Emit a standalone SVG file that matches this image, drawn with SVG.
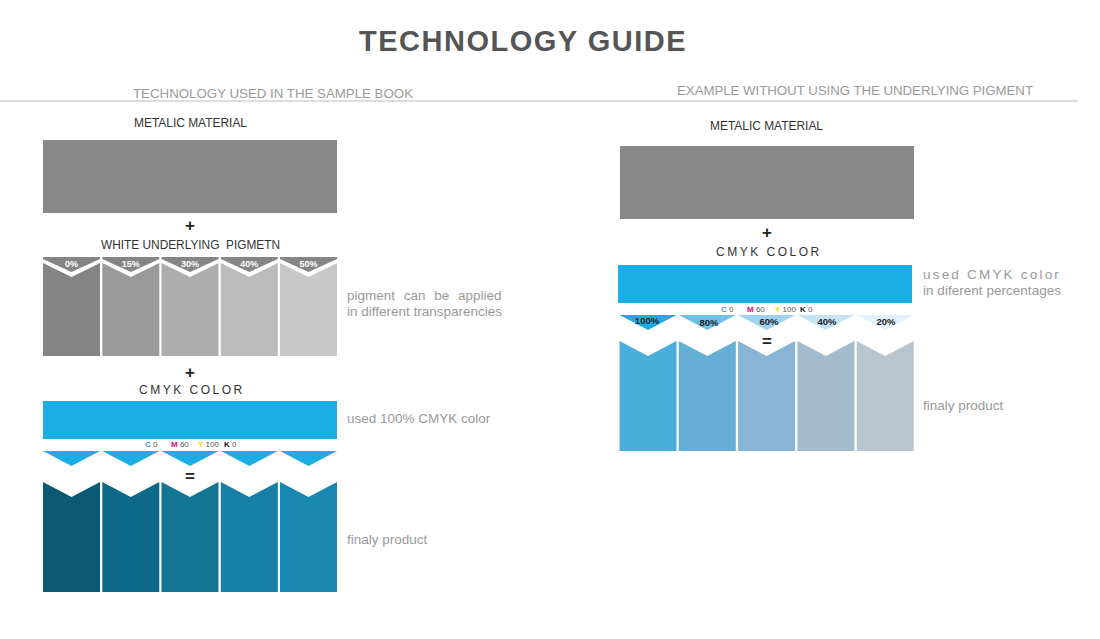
<svg xmlns="http://www.w3.org/2000/svg" width="1100" height="639" viewBox="0 0 1100 639">
<style>
text{font-family:"Liberation Sans",Arial,sans-serif}
.title{font-size:29px;font-weight:bold;fill:#555;letter-spacing:1.5px}
.sec{font-size:13.3px;fill:#9a9a9a}
.lab{font-size:12px;fill:#333}
.note{font-size:13.5px;fill:#999}
.op{font-size:17px;font-weight:bold;fill:#222;text-anchor:middle}
.pct{font-size:9px;font-weight:bold;fill:#fff;text-anchor:middle}
.pct2{font-size:9.5px;font-weight:bold;fill:#222;text-anchor:middle}
.cmyk{font-size:8px;fill:#555}
.spaced{font-size:12px;fill:#333;letter-spacing:2.5px}
</style>
<rect width="1100" height="639" fill="#fff"/>
<text class="title" x="523" y="51" text-anchor="middle">TECHNOLOGY GUIDE</text>
<line x1="0" y1="101" x2="1078" y2="101" stroke="#bbb" stroke-width="1"/>
<text class="sec" x="133" y="98" textLength="280">TECHNOLOGY USED IN THE SAMPLE BOOK</text>
<text class="sec" x="677" y="95" textLength="356">EXAMPLE WITHOUT USING THE UNDERLYING PIGMENT</text>

<g id="left-metal">
<text class="lab" x="134" y="127" textLength="113" lengthAdjust="spacingAndGlyphs">METALIC MATERIAL</text>
<rect x="43" y="140" width="294" height="73" fill="#888"/>
</g>
<text class="op" x="190" y="231">+</text>
<g id="left-pigment">
<text class="lab" x="101" y="249" textLength="179" lengthAdjust="spacingAndGlyphs" xml:space="preserve">WHITE UNDERLYING  PIGMETN</text>
<g fill="#858585">
<polygon points="43,257 100,257 100,259 71.5,272 43,259"/>
<polygon points="102.3,257 159.3,257 159.3,259 130.8,272 102.3,259"/>
<polygon points="161.5,257 218.5,257 218.5,259 190,272 161.5,259"/>
<polygon points="220.8,257 277.8,257 277.8,259 249.3,272 220.8,259"/>
<polygon points="280,257 337,257 337,259 308.5,272 280,259"/>
</g>
<text class="pct" x="71.5" y="267">0%</text>
<text class="pct" x="130.8" y="267">15%</text>
<text class="pct" x="190" y="267">30%</text>
<text class="pct" x="249.3" y="267">40%</text>
<text class="pct" x="308.5" y="267">50%</text>
<polygon points="43,263 71.5,277 100,263 100,356 43,356" fill="#848484"/>
<polygon points="102.3,263 130.8,277 159.3,263 159.3,356 102.3,356" fill="#9a9a9a"/>
<polygon points="161.5,263 190,277 218.5,263 218.5,356 161.5,356" fill="#adadad"/>
<polygon points="220.8,263 249.3,277 277.8,263 277.8,356 220.8,356" fill="#bbbbbb"/>
<polygon points="280,263 308.5,277 337,263 337,356 280,356" fill="#c8c8c8"/>
<text class="note" x="347" y="300" word-spacing="5">pigment can be applied</text>
<text class="note" x="347" y="316">in different transparencies</text>
</g>
<text class="op" x="190" y="378">+</text>
<g id="left-cmyk">
<text class="spaced" x="139" y="394">CMYK COLOR</text>
<rect x="43" y="401" width="294" height="38" fill="#1aaee5"/>
<text class="cmyk" x="145" y="447"><tspan fill="#3a9ad9" font-weight="bold">C</tspan> 0 <tspan x="171" fill="#e6007e" font-weight="bold">M</tspan> 60 <tspan x="198" fill="#f2d600" font-weight="bold">Y</tspan> 100 <tspan x="224" fill="#111" font-weight="bold">K</tspan> 0</text>
<g fill="#1aaee5">
<polygon points="43,451 100,451 71.5,466"/>
<polygon points="102.3,451 159.3,451 130.8,466"/>
<polygon points="161.5,451 218.5,451 190,466"/>
<polygon points="220.8,451 277.8,451 249.3,466"/>
<polygon points="280,451 337,451 308.5,466"/>
</g>
<text class="note" x="347" y="423">used 100% CMYK color</text>
</g>
<text class="op" x="190" y="482">=</text>
<g id="left-final">
<polygon points="43,482 71.5,497 100,482 100,592 43,592" fill="#0a5a73"/>
<polygon points="102.3,482 130.8,497 159.3,482 159.3,592 102.3,592" fill="#0e6887"/>
<polygon points="161.5,482 190,497 218.5,482 218.5,592 161.5,592" fill="#127594"/>
<polygon points="220.8,482 249.3,497 277.8,482 277.8,592 220.8,592" fill="#167fa5"/>
<polygon points="280,482 308.5,497 337,482 337,592 280,592" fill="#1888b3"/>
<text class="note" x="347" y="544">finaly product</text>
</g>

<g id="right-metal">
<text class="lab" x="710" y="130" textLength="113" lengthAdjust="spacingAndGlyphs">METALIC MATERIAL</text>
<rect x="620" y="146" width="294" height="73" fill="#888"/>
</g>
<text class="op" x="767" y="238">+</text>
<g id="right-cmyk">
<text class="spaced" x="716" y="256">CMYK COLOR</text>
<rect x="618" y="265" width="294" height="38" fill="#1aaee5"/>
<text class="cmyk" x="721" y="312"><tspan fill="#3a9ad9" font-weight="bold">C</tspan> 0 <tspan x="747" fill="#e6007e" font-weight="bold">M</tspan> 60 <tspan x="775" fill="#f2d600" font-weight="bold">Y</tspan> 100 <tspan x="800" fill="#111" font-weight="bold">K</tspan> 0</text>
<polygon points="619.5,315 676.5,315 648,330" fill="#1aaee5"/>
<polygon points="678.8,315 735.8,315 707.3,330" fill="#6cc0ea"/>
<polygon points="738.1,315 795.1,315 766.6,330" fill="#9dd3f0"/>
<polygon points="797.4,315 854.4,315 825.9,330" fill="#c4e4f6"/>
<polygon points="856.7,315 913.7,315 885.2,330" fill="#e2f1fb"/>
<text class="pct2" x="647" y="324">100%</text>
<text class="pct2" x="709" y="326">80%</text>
<text class="pct2" x="769" y="325">60%</text>
<text class="pct2" x="827" y="325">40%</text>
<text class="pct2" x="886" y="325">20%</text>
<text class="note" x="923" y="279" letter-spacing="2.2">used CMYK color</text>
<text class="note" x="923" y="295" textLength="138">in diferent percentages</text>
</g>
<g id="right-final">
<polygon points="619.5,341 648,356 676.5,341 676.5,451 619.5,451" fill="#4aaedc"/>
<polygon points="678.8,341 707.3,356 735.8,341 735.8,451 678.8,451" fill="#65aed6"/>
<polygon points="738.1,341 766.6,356 795.1,341 795.1,451 738.1,451" fill="#88b5d3"/>
<polygon points="797.4,341 825.9,356 854.4,341 854.4,451 797.4,451" fill="#a2bbcd"/>
<polygon points="856.7,341 885.2,356 913.7,341 913.7,451 856.7,451" fill="#b8c5ce"/>
<text class="note" x="923" y="410">finaly product</text>
</g>
<text class="op" x="767" y="347">=</text>
</svg>
